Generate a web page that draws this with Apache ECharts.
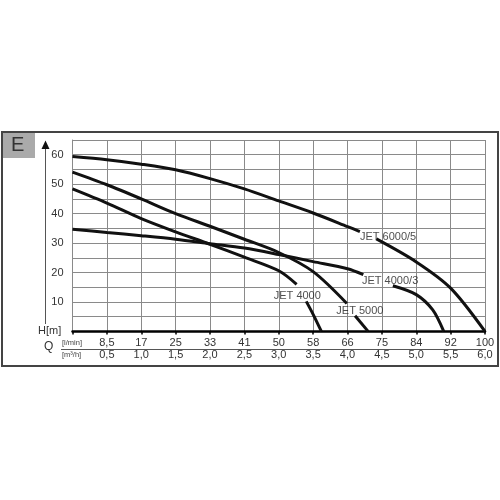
<!DOCTYPE html>
<html>
<head>
<meta charset="utf-8">
<script src="https://cdn.jsdelivr.net/npm/echarts@6/dist/echarts.min.js"></script>
<style>
  html, body { margin: 0; padding: 0; background: #fff; }
  #chart { width: 500px; height: 500px; }
</style>
</head>
<body>
<div id="chart"></div>
<script>
// tick labels (Q axis, two rows) and head axis
var lpmLabels = ['', '8,5', '17', '25', '33', '41', '50', '58', '66', '75', '84', '92', '100'];
var m3hLabels = ['', '0,5', '1,0', '1,5', '2,0', '2,5', '3,0', '3,5', '4,0', '4,5', '5,0', '5,5', '6,0'];

// curves [Q m3/h, H m], each split where its label sits
var jet6000a = [[0, 59.4], [0.5, 58.3], [1.0, 56.8], [1.5, 54.9], [2.0, 51.9], [2.5, 48.4], [3.0, 44.3], [3.5, 40.2], [4.0, 35.6], [4.18, 33.9]];
var jet6000b = [[4.42, 31.4], [5.0, 23.6], [5.5, 14.7], [6.0, 0]];
var jet5000a = [[0, 54.1], [0.5, 49.8], [1.0, 45.0], [1.5, 40.0], [2.0, 35.7], [2.5, 31.3], [3.0, 26.8], [3.5, 20.3], [3.99, 9.5]];
var jet5000b = [[4.11, 5.3], [4.30, 0]];
var jet4000a = [[0, 48.4], [0.5, 43.6], [1.0, 38.3], [1.5, 33.8], [2.0, 29.6], [2.5, 25.2], [3.0, 20.6], [3.26, 16.0]];
var jet4000b = [[3.40, 10.2], [3.5, 5.8], [3.62, 0]];
var jet4000_3a = [[0, 34.7], [0.5, 33.6], [1.0, 32.5], [1.5, 31.3], [2.0, 29.8], [2.5, 28.3], [3.0, 26.1], [3.5, 23.7], [4.0, 21.3], [4.23, 19.3]];
var jet4000_3b = [[4.66, 15.5], [5.0, 12.5], [5.24, 7.3], [5.40, 0]];

var curveNames = ['JET 6000/5', 'JET 4000/3', 'JET 4000', 'JET 5000'];
var namePos = [[4.59, 32.2], [4.62, 17.1], [3.27, 12.1], [4.18, 7.0]];

var FONT = 'Liberation Sans, Arial, sans-serif';

var chart = echarts.init(document.getElementById('chart'));

function curve(data) {
    return {
        type: 'line',
        data: data,
        smooth: 0.3,
        showSymbol: false,
        silent: true,
        lineStyle: { color: '#111', width: 3 },
        z: 3
    };
}

var series = [jet6000a, jet6000b, jet5000a, jet5000b, jet4000a, jet4000b, jet4000_3a, jet4000_3b].map(curve);
series.push({
    type: 'scatter',
    symbolSize: 2,
    itemStyle: { color: 'transparent' },
    data: namePos.map(function(p, i) { return { name: curveNames[i], value: p }; }),
    label: {
        show: true,
        position: 'inside',
        formatter: '{b}',
        color: '#222',
        fontSize: 11,
        fontFamily: FONT
    },
    z: 4
});

chart.setOption({
    animation: false,
    backgroundColor: '#fff',
    grid: { left: 72.5, right: 15, top: 140, bottom: 168.6 },
    xAxis: [{
        type: 'value', min: 0, max: 6, interval: 0.5,
        axisLine: { show: true, lineStyle: { color: '#000', width: 2.5 } },
        axisTick: { show: true, length: 3, lineStyle: { color: '#000', width: 1.5 } },
        splitLine: { show: true, lineStyle: { color: '#8a8a8a', width: 1 } },
        axisLabel: {
            margin: 6, color: '#333', fontSize: 11, fontFamily: FONT,
            formatter: function(v) { return lpmLabels[Math.round(v / 0.5)] || ''; }
        }
    }, {
        type: 'value', min: 0, max: 6, interval: 0.5, position: 'bottom', offset: 12,
        axisLine: { show: false }, axisTick: { show: false }, splitLine: { show: false },
        axisLabel: {
            margin: 6, color: '#333', fontSize: 11, fontFamily: FONT,
            formatter: function(v) { return m3hLabels[Math.round(v / 0.5)] || ''; }
        }
    }],
    yAxis: [{
        type: 'value', min: 0, max: 65, interval: 5,
        axisLine: { show: true, lineStyle: { color: '#8a8a8a', width: 1 } },
        axisTick: { show: false },
        splitLine: { show: true, lineStyle: { color: '#8a8a8a', width: 1 } },
        axisLabel: {
            margin: 9, color: '#333', fontSize: 11, fontFamily: FONT,
            formatter: function(v) { return (v > 0 && v % 10 === 0) ? String(v) : ''; }
        }
    }],
    graphic: [
        { type: 'rect', shape: { x: 2, y: 132, width: 496, height: 234 },
          style: { fill: 'none', stroke: '#444', lineWidth: 2 }, z: 10 },
        { type: 'rect', shape: { x: 3, y: 133, width: 32, height: 25 },
          style: { fill: '#aaaaaa' }, z: 9 },
        { type: 'text', left: 11, top: 135, z: 11,
          style: { text: 'E', fill: '#333', font: '20px ' + FONT } },
        { type: 'line', shape: { x1: 45.5, y1: 148, x2: 45.5, y2: 324 },
          style: { stroke: '#555', lineWidth: 1 } },
        { type: 'polygon', shape: { points: [[45.5, 140.5], [41.5, 149], [49.5, 149]] },
          style: { fill: '#111' } },
        { type: 'text', left: 38, top: 325,
          style: { text: 'H[m]', fill: '#333', font: '11px ' + FONT } },
        { type: 'text', left: 44, top: 341,
          style: { text: 'Q', fill: '#333', font: '12px ' + FONT } },
        { type: 'text', left: 62, top: 339,
          style: { text: '[l/min]', fill: '#444', font: '7.5px ' + FONT } },
        { type: 'text', left: 62, top: 351,
          style: { text: '[m\u00b3/h]', fill: '#444', font: '7.5px ' + FONT } },
        { type: 'line', shape: { x1: 61, y1: 349.5, x2: 486, y2: 349.5 },
          style: { stroke: '#555', lineWidth: 1 } }
    ],
    series: series
});
</script>
</body>
</html>
